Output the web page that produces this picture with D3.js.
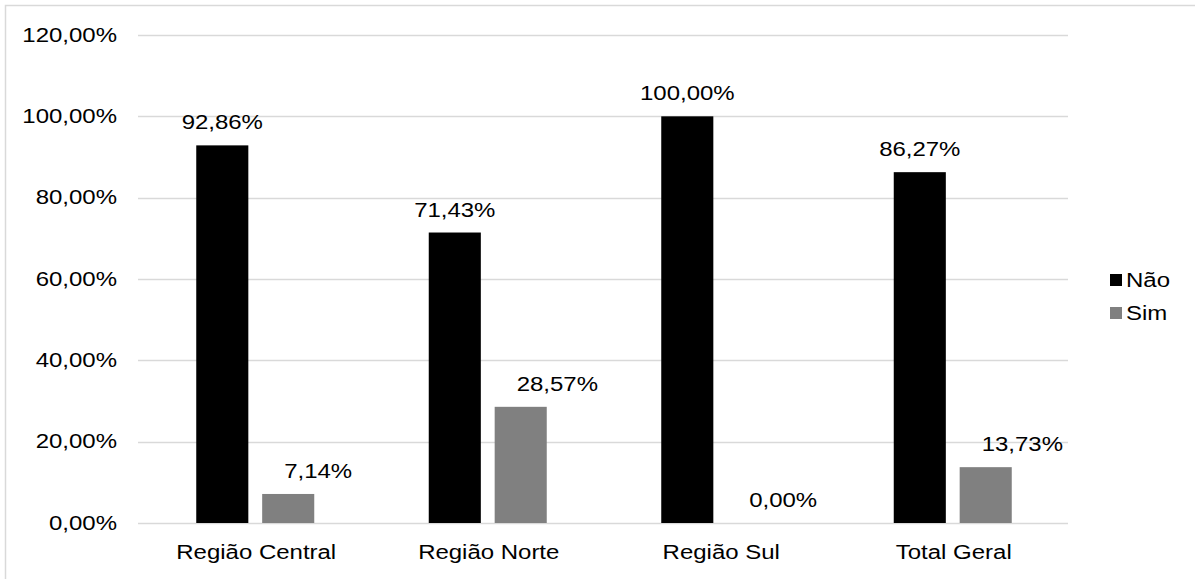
<!DOCTYPE html>
<html>
<head>
<meta charset="utf-8">
<script src="https://cdn.jsdelivr.net/npm/d3@7"></script>
<style>
    body { margin: 0; background: #fff; }
    svg text { font-family: "Liberation Sans", Arial, sans-serif; fill: #000; font-size: 19.5px; }
</style>
</head>
<body>
<div id="chart"></div>
<script>
    // Data
    var categories = ["Região Central", "Região Norte", "Região Sul", "Total Geral"];
    var seriesNames = ["Não", "Sim"];
    var naoValues = [92.86, 71.43, 100.00, 86.27];
    var simValues = [7.14, 28.57, 0.00, 13.73];
    var yTicks = [0, 20, 40, 60, 80, 100, 120];
    var seriesColors = ["#000000", "#808080"];

    var width = 1195, height = 579;
    var plotLeft = 138, plotRight = 1068, plotTop = 35, plotBottom = 523;
    var stretch = 1.23; // text in the picture is drawn wide

    var svg = d3.select("#chart")
        .append("svg")
        .attr("width", width)
        .attr("height", height);

    // place a text at (x, y) with the horizontal stretch
    var place = function (x, y) {
        return "translate(" + x + "," + y + ") scale(" + stretch + ",1)";
    };

    // chart frame (left and top edges only visible)
    svg.append("path")
        .attr("d", "M5.5,579 V5.5 H1195")
        .attr("fill", "none")
        .attr("stroke", "#d9d9d9")
        .attr("stroke-width", 1.5);

    var x0 = d3.scaleBand()
        .domain(categories)
        .range([plotLeft, plotRight]);

    var x1 = d3.scaleBand()
        .domain(seriesNames)
        .range([0, 118])
        .paddingInner(0.21);

    var y = d3.scaleLinear()
        .domain([0, 120])
        .range([plotBottom, plotTop]);

    var fmt = function (v) { return v.toFixed(2).replace(".", ",") + "%"; };

    // gridlines
    svg.append("g")
        .selectAll("line")
        .data(yTicks)
        .enter()
        .append("line")
        .attr("x1", plotLeft)
        .attr("x2", plotRight)
        .attr("y1", function (d) { return Math.round(y(d)) + 0.5; })
        .attr("y2", function (d) { return Math.round(y(d)) + 0.5; })
        .attr("stroke", "#d9d9d9")
        .attr("stroke-width", 1.5);

    // y tick labels
    svg.append("g")
        .selectAll("text")
        .data(yTicks)
        .enter()
        .append("text")
        .attr("transform", function (d) { return place(117, y(d)); })
        .attr("dy", "0.35em")
        .attr("text-anchor", "end")
        .text(fmt);

    // bars
    var rows = categories.map(function (c, i) {
        return { cat: c, values: [naoValues[i], simValues[i]] };
    });

    var groups = svg.append("g")
        .selectAll("g")
        .data(rows)
        .enter()
        .append("g")
        .attr("transform", function (d) {
            return "translate(" + (x0(d.cat) + x0.bandwidth() / 2 - 58) + ",0)";
        });

    groups.selectAll("rect")
        .data(function (d) { return d.values.map(function (v, j) { return { s: seriesNames[j], v: v, j: j }; }); })
        .enter()
        .append("rect")
        .attr("x", function (d) { return x1(d.s); })
        .attr("width", x1.bandwidth())
        .attr("y", function (d) { return y(d.v); })
        .attr("height", function (d) { return y(0) - y(d.v); })
        .attr("fill", function (d) { return seriesColors[d.j]; });

    // value labels: Não centred over its bar, Sim starting near bar centre
    groups.selectAll("text")
        .data(function (d) { return d.values.map(function (v, j) { return { s: seriesNames[j], v: v, j: j }; }); })
        .enter()
        .append("text")
        .attr("transform", function (d) {
            var cx = x1(d.s) + x1.bandwidth() / 2;
            return place(d.j === 0 ? cx : cx - 4, y(d.v) - 16);
        })
        .attr("text-anchor", function (d) { return d.j === 0 ? "middle" : "start"; })
        .text(function (d) { return fmt(d.v); });

    // category labels
    svg.append("g")
        .selectAll("text")
        .data(categories)
        .enter()
        .append("text")
        .attr("transform", function (d) { return place(x0(d) + x0.bandwidth() / 2 + 2, 559); })
        .attr("text-anchor", "middle")
        .text(function (d) { return d; });

    // legend
    var legend = svg.append("g")
        .selectAll("g")
        .data(seriesNames)
        .enter()
        .append("g")
        .attr("transform", function (d, i) { return "translate(1110," + (280 + i * 33) + ")"; });

    legend.append("rect")
        .attr("x", 0)
        .attr("y", -6)
        .attr("width", 12)
        .attr("height", 12)
        .attr("fill", function (d, i) { return seriesColors[i]; });

    legend.append("text")
        .attr("transform", place(16, 0))
        .attr("dy", "0.35em")
        .text(function (d) { return d; });
</script>
</body>
</html>
